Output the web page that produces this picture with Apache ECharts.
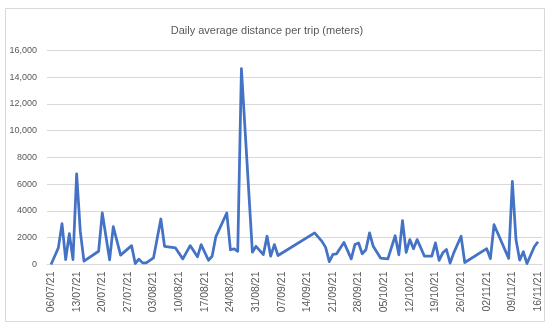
<!DOCTYPE html>
<html>
<head>
<meta charset="utf-8">
<script src="https://cdn.jsdelivr.net/npm/echarts@6/dist/echarts.min.js"></script>
<style>
html,body{margin:0;padding:0;background:#fff;}
#c{width:550px;height:325px;}
</style>
</head>
<body>
<div id="c"></div>
<script>
const chartTitle = 'Daily average distance per trip (meters)';
const dates = [
 '06/07/21','07/07/21','08/07/21','09/07/21','10/07/21','11/07/21','12/07/21','13/07/21','14/07/21','15/07/21',
 '19/07/21','20/07/21','22/07/21','23/07/21','25/07/21','28/07/21','29/07/21','30/07/21','31/07/21','01/08/21',
 '03/08/21','05/08/21','06/08/21','09/08/21','11/08/21','13/08/21','15/08/21','16/08/21','18/08/21','19/08/21',
 '20/08/21','23/08/21','24/08/21','25/08/21','26/08/21','27/08/21','30/08/21','31/08/21','02/09/21','03/09/21',
 '04/09/21','05/09/21','06/09/21','16/09/21','18/09/21','19/09/21','20/09/21','21/09/21','22/09/21','24/09/21',
 '26/09/21','27/09/21','28/09/21','29/09/21','30/09/21','01/10/21','02/10/21','04/10/21','06/10/21','08/10/21',
 '09/10/21','10/10/21','11/10/21','12/10/21','13/10/21','14/10/21','16/10/21','18/10/21','19/10/21','20/10/21',
 '21/10/21','22/10/21','23/10/21','24/10/21','26/10/21','27/10/21','02/11/21','03/11/21','04/11/21','08/11/21',
 '09/11/21','10/11/21','11/11/21','12/11/21','13/11/21','15/11/21','16/11/21'
];
const distances = [
 0,620,1240,3050,370,2300,370,6770,2450,250,
 990,3850,350,2830,700,1410,75,400,120,120,
 500,3400,1360,1240,420,1410,570,1490,320,620,
 2060,3850,1100,1170,990,14640,920,1360,740,2110,
 620,1490,670,2360,1730,1280,220,760,800,1650,
 420,1490,1610,800,1100,2360,1360,480,420,2150,
 720,3280,900,1860,1170,1860,620,620,1610,310,
 870,1120,100,870,2110,150,1180,440,2970,460,
 6200,1840,330,950,70,1330,1700
];
const xTickLabels = ['06/07/21','13/07/21','20/07/21','27/07/21','03/08/21','10/08/21','17/08/21','24/08/21','31/08/21',
 '07/09/21','14/09/21','21/09/21','28/09/21','05/10/21','12/10/21','19/10/21','26/10/21','02/11/21','09/11/21','16/11/21'];
const yTickLabels = ['0','2000','4000','6000','8000','10,000','12,000','14,000','16,000'];

function dayIndex(s){
  const p = s.split('/').map(Number);
  return Math.round((Date.UTC(2000+p[2], p[1]-1, p[0]) - Date.UTC(2021, 6, 6)) / 86400000);
}
const tickDays = xTickLabels.map(dayIndex);
const tickMap = {};
tickDays.forEach((d,i)=>{ tickMap[d] = xTickLabels[i]; });
const seriesData = dates.map((d,i)=>[dayIndex(d), distances[i]]);

const chart = echarts.init(document.getElementById('c'), null, {renderer:'canvas'});
chart.setOption({
  animation:false,
  backgroundColor:'#ffffff',
  title:{
    text: chartTitle,
    left: 262, top: 20, textAlign:'center',
    textStyle:{fontFamily:'Liberation Sans', fontSize:11, fontWeight:'normal', color:'#595959'}
  },
  graphic:[{
    type:'rect', shape:{x:5.5,y:8.5,width:539,height:313},
    style:{fill:'none', stroke:'#D9D9D9', lineWidth:1}, silent:true, z:-1
  }],
  grid:{left:47, right:8, top:50.3, bottom:60.5, containLabel:false},
  xAxis:{
    type:'value', min:-1.1, max:134.1,
    splitLine:{show:false},
    axisTick:{show:false},
    axisLine:{show:true, lineStyle:{color:'#D9D9D9', width:1}},
    axisLabel:{
      customValues: tickDays,
      rotate:90, margin:7,
      fontFamily:'Liberation Sans', fontSize:10.5, color:'#595959',
      formatter:function(v){ return tickMap[Math.round(v)] || ''; }
    }
  },
  yAxis:{
    type:'value', min:0, max:16000, interval:2000,
    axisLine:{show:false}, axisTick:{show:false},
    splitLine:{show:true, lineStyle:{color:'#D9D9D9', width:1}},
    axisLabel:{
      margin:10, fontFamily:'Liberation Sans', fontSize:9, color:'#595959',
      formatter:function(v){ return yTickLabels[Math.round(v/2000)]; }
    }
  },
  series:[{
    type:'line', data:seriesData, symbol:'none', smooth:false,
    lineStyle:{color:'#4472C4', width:2.75, join:'round'},
    itemStyle:{color:'#4472C4'}
  }]
});
</script>
</body>
</html>
